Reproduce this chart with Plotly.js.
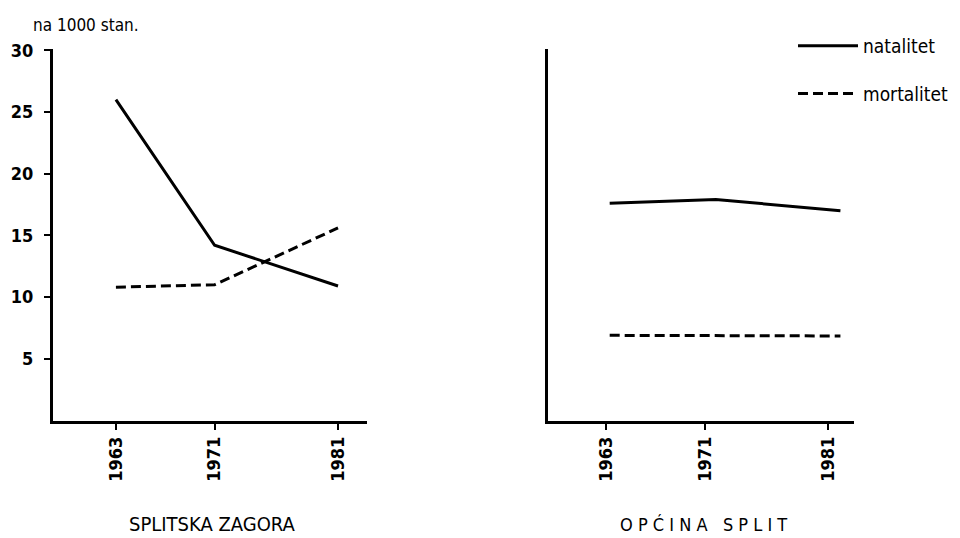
<!DOCTYPE html>
<html><head><meta charset="utf-8">
<script src="https://cdn.plot.ly/plotly-3.0.1.min.js"></script>
<style>body{margin:0;background:#fff}#c{width:960px;height:538px}</style>
</head><body><div id="c"></div>
<script>
// Splitska Zagora (per 1000 inhabitants)
const zagoraYears = [1963, 1971, 1981];
const zagoraNatalitet = [26.0, 14.2, 10.9];
const zagoraMortalitet = [10.8, 11.0, 15.6];
// Općina Split
const splitYears = [1963.3, 1971.9, 1982.0];
const splitNatalitet = [17.6, 17.9, 17.0];
const splitMortalitet = [6.9, 6.9, 6.85];
const yTicks = [5, 10, 15, 20, 25, 30];
const yearTicks = [1963, 1971, 1981];

const F = '"DejaVu Sans Condensed", "Liberation Sans Narrow", "Liberation Sans", Arial, sans-serif';
const solid = {color: '#000', width: 3};
const dashed = {color: '#000', width: 3, dash: '10px,5px'};

const data = [
  {x: zagoraYears, y: zagoraNatalitet, mode: 'lines', line: solid, name: 'natalitet', xaxis: 'x', yaxis: 'y', legendgroup: 'a', showlegend: true},
  {x: zagoraYears, y: zagoraMortalitet, mode: 'lines', line: dashed, name: 'mortalitet', xaxis: 'x', yaxis: 'y', legendgroup: 'b', showlegend: true},
  {x: splitYears, y: splitNatalitet, mode: 'lines', line: solid, name: 'natalitet', xaxis: 'x2', yaxis: 'y2', showlegend: false},
  {x: splitYears, y: splitMortalitet, mode: 'lines', line: dashed, name: 'mortalitet', xaxis: 'x2', yaxis: 'y2', showlegend: false}
];

const xCommon = {
  showgrid: false, zeroline: false, showline: true, linecolor: '#000', linewidth: 3,
  ticks: 'outside', ticklen: 6, tickwidth: 2, tickcolor: '#000',
  tickmode: 'array', tickvals: yearTicks, ticktext: yearTicks.map(String),
  tickangle: -90, tickfont: {family: F, size: 18, color: '#000', weight: 'bold'}, fixedrange: true
};
const yDom = [1 - 420.5 / 538, 1 - 49 / 538];

const layout = {
  width: 960, height: 538,
  margin: {l: 0, r: 0, t: 0, b: 0},
  paper_bgcolor: '#fff', plot_bgcolor: 'rgba(0,0,0,0)',
  showlegend: true,
  legend: {x: 793 / 960, y: 1 - 27 / 538, xanchor: 'left', yanchor: 'top',
    font: {family: F, size: 19, color: '#000'}, tracegroupgap: 20, itemwidth: 60,
    bgcolor: 'rgba(0,0,0,0)'},
  xaxis: Object.assign({}, xCommon, {domain: [53 / 960, 367 / 960], range: [1957.9, 1983.35], anchor: 'y'}),
  xaxis2: Object.assign({}, xCommon, {domain: [548 / 960, 854 / 960], range: [1958.3, 1983.1], anchor: 'y2'}),
  yaxis: {domain: yDom, range: [0, 30.1], anchor: 'x', showgrid: false, zeroline: false,
    showline: true, linecolor: '#000', linewidth: 3,
    ticks: 'outside', ticklen: 6, tickwidth: 2, tickcolor: '#000',
    tickmode: 'array', tickvals: yTicks, ticktext: yTicks.map(String), ticklabelstandoff: 7,
    tickfont: {family: F, size: 18, color: '#000', weight: 'bold'}, fixedrange: true},
  yaxis2: {domain: yDom, range: [0, 30.1], anchor: 'x2', showgrid: false, zeroline: false,
    showline: true, linecolor: '#000', linewidth: 3, ticks: '', showticklabels: false, fixedrange: true},
  annotations: [
    {text: 'na 1000 stan.', xref: 'paper', yref: 'paper', x: 31 / 960, y: 1 - 25 / 538,
     xanchor: 'left', yanchor: 'middle', showarrow: false, font: {family: F, size: 17, color: '#000'}},
    {text: 'SPLITSKA ZAGORA', xref: 'paper', yref: 'paper', x: 212 / 960, y: 1 - 524 / 538,
     xanchor: 'center', yanchor: 'middle', showarrow: false, font: {family: F, size: 20, color: '#000'}},
    {text: 'O P Ć I N A   S P L I T', xref: 'paper', yref: 'paper', x: 703 / 960, y: 1 - 524 / 538,
     xanchor: 'center', yanchor: 'middle', showarrow: false, font: {family: F, size: 18, color: '#000'}}
  ]
};
Plotly.newPlot('c', data, layout, {displayModeBar: false, staticPlot: true});
</script></body></html>
